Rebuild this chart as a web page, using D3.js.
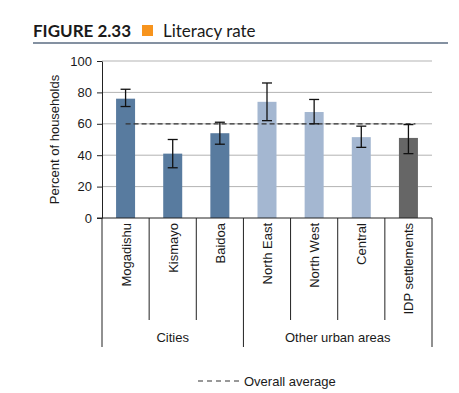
<!DOCTYPE html>
<html>
  <head>
    <script src="https://d3js.org/d3.v7.min.js"></script>
    <style>
      body { margin: 0; background: #fff; }
      text { font-family: "Liberation Sans", Arial, sans-serif; fill: #1a1a1a; }
    </style>
  </head>
  <body>
    <svg width="459" height="393"></svg>
    <script>
      // data
      var categories = ["Mogadishu", "Kismayo", "Baidoa", "North East", "North West", "Central", "IDP settlements"];
      var groups = ["Cities", "Cities", "Cities", "Other urban areas", "Other urban areas", "Other urban areas", "IDP"];
      var values = [76, 41, 54, 74, 67.5, 51.5, 51];
      var errLow = [71, 32, 47, 62, 60, 45, 41];
      var errHigh = [82, 50, 61, 86, 75.5, 58.5, 59.5];
      var overallAverage = 60;
      var yTicks = [0, 20, 40, 60, 80, 100];
      var groupLabels = [
        { label: "Cities", from: 0, to: 2 },
        { label: "Other urban areas", from: 3, to: 6 }
      ];

      var colors = { "Cities": "#587b9f", "Other urban areas": "#a4b7d1", "IDP": "#666666" };

      var svg = d3.select("svg");
      var plotLeft = 102, plotRight = 432, plotTop = 61, plotBottom = 218;

      // title
      var title = svg.append("g");
      title.append("text")
        .attr("x", 33).attr("y", 37)
        .style("font-family", "Lato, sans-serif")
        .style("font-weight", "bold")
        .style("font-size", "17px")
        .text("FIGURE 2.33");
      title.append("rect")
        .attr("x", 142).attr("y", 25).attr("width", 11).attr("height", 11)
        .attr("fill", "#f7941d");
      title.append("text")
        .attr("x", 163).attr("y", 37)
        .style("font-family", "Lato, sans-serif")
        .style("font-size", "17px")
        .text("Literacy rate");
      svg.append("line")
        .attr("x1", 33).attr("x2", 448).attr("y1", 43).attr("y2", 43)
        .attr("stroke", "#5b6d82").attr("stroke-width", 1.3);

      var x = d3.scaleBand().domain(categories).range([plotLeft, plotRight]).paddingInner(0).paddingOuter(0);
      var y = d3.scaleLinear().domain([0, 100]).range([plotBottom, plotTop]);
      var barW = 19;

      // gridlines
      svg.append("g").selectAll("line").data(yTicks.slice(1)).enter().append("line")
        .attr("x1", plotLeft).attr("x2", plotRight)
        .attr("y1", function (d) { return y(d); }).attr("y2", function (d) { return y(d); })
        .attr("stroke", "#b3b3b3").attr("stroke-width", 1);

      // y axis
      var yAxis = svg.append("g")
        .attr("transform", "translate(" + plotLeft + ",0)")
        .call(d3.axisLeft(y).tickValues(yTicks).tickSize(5).tickPadding(5).tickSizeOuter(0));
      yAxis.select(".domain").attr("stroke", "#222");
      yAxis.selectAll(".tick line").attr("stroke", "#222");
      yAxis.selectAll("text").style("font-size", "13px").attr("fill", "#1a1a1a");

      svg.append("text")
        .attr("transform", "translate(59," + ((plotTop + plotBottom) / 2) + ") rotate(-90)")
        .attr("text-anchor", "middle")
        .style("font-size", "13px")
        .text("Percent of households");

      // bars
      svg.append("g").selectAll("rect").data(categories).enter().append("rect")
        .attr("x", function (d) { return x(d) + x.bandwidth() / 2 - barW / 2; })
        .attr("width", barW)
        .attr("y", function (d, i) { return y(values[i]); })
        .attr("height", function (d, i) { return y(0) - y(values[i]); })
        .attr("fill", function (d, i) { return colors[groups[i]]; });

      // overall average
      svg.append("line")
        .attr("x1", x(categories[0]) + x.bandwidth() / 2)
        .attr("x2", x(categories[6]) + x.bandwidth() / 2 + 7)
        .attr("y1", y(overallAverage)).attr("y2", y(overallAverage))
        .attr("stroke", "#333").attr("stroke-width", 1.3)
        .attr("stroke-dasharray", "5,3");

      // error bars
      var err = svg.append("g").attr("stroke", "#111").attr("stroke-width", 1.3);
      categories.forEach(function (c, i) {
        var cx = x(c) + x.bandwidth() / 2;
        err.append("line").attr("x1", cx).attr("x2", cx)
          .attr("y1", y(errLow[i])).attr("y2", y(errHigh[i]));
        [errLow[i], errHigh[i]].forEach(function (v) {
          err.append("line").attr("x1", cx - 5).attr("x2", cx + 5)
            .attr("y1", y(v)).attr("y2", y(v));
        });
      });

      // x axis baseline
      svg.append("line")
        .attr("x1", plotLeft - 5).attr("x2", plotRight)
        .attr("y1", plotBottom).attr("y2", plotBottom)
        .attr("stroke", "#222");

      // category dividers
      var dividers = categories.map(function (c) { return x(c); }).concat([plotRight]);
      svg.append("g").selectAll("line").data(dividers).enter().append("line")
        .attr("x1", function (d) { return d; }).attr("x2", function (d) { return d; })
        .attr("y1", plotBottom)
        .attr("y2", function (d, i) { return (i === 0 || i === 3 || i === 7) ? 347 : 320; })
        .attr("stroke", "#222").attr("stroke-width", 1);

      // category labels
      svg.append("g").selectAll("text").data(categories).enter().append("text")
        .attr("transform", function (d) {
          return "translate(" + (x(d) + x.bandwidth() / 2 + 5) + "," + (plotBottom + 5) + ") rotate(-90)";
        })
        .attr("text-anchor", "end")
        .style("font-size", "13px")
        .text(function (d) { return d; });

      // group labels
      svg.append("g").selectAll("text").data(groupLabels).enter().append("text")
        .attr("x", function (d) { return (x(categories[d.from]) + x(categories[d.to]) + x.bandwidth()) / 2; })
        .attr("y", 342)
        .attr("text-anchor", "middle")
        .style("font-size", "13px")
        .text(function (d) { return d.label; });

      // legend
      svg.append("line")
        .attr("x1", 198).attr("x2", 241).attr("y1", 381).attr("y2", 381)
        .attr("stroke", "#333").attr("stroke-width", 1.2)
        .attr("stroke-dasharray", "5,4");
      svg.append("text")
        .attr("x", 244).attr("y", 386)
        .style("font-size", "13px")
        .text("Overall average");
    </script>
  </body>
</html>
